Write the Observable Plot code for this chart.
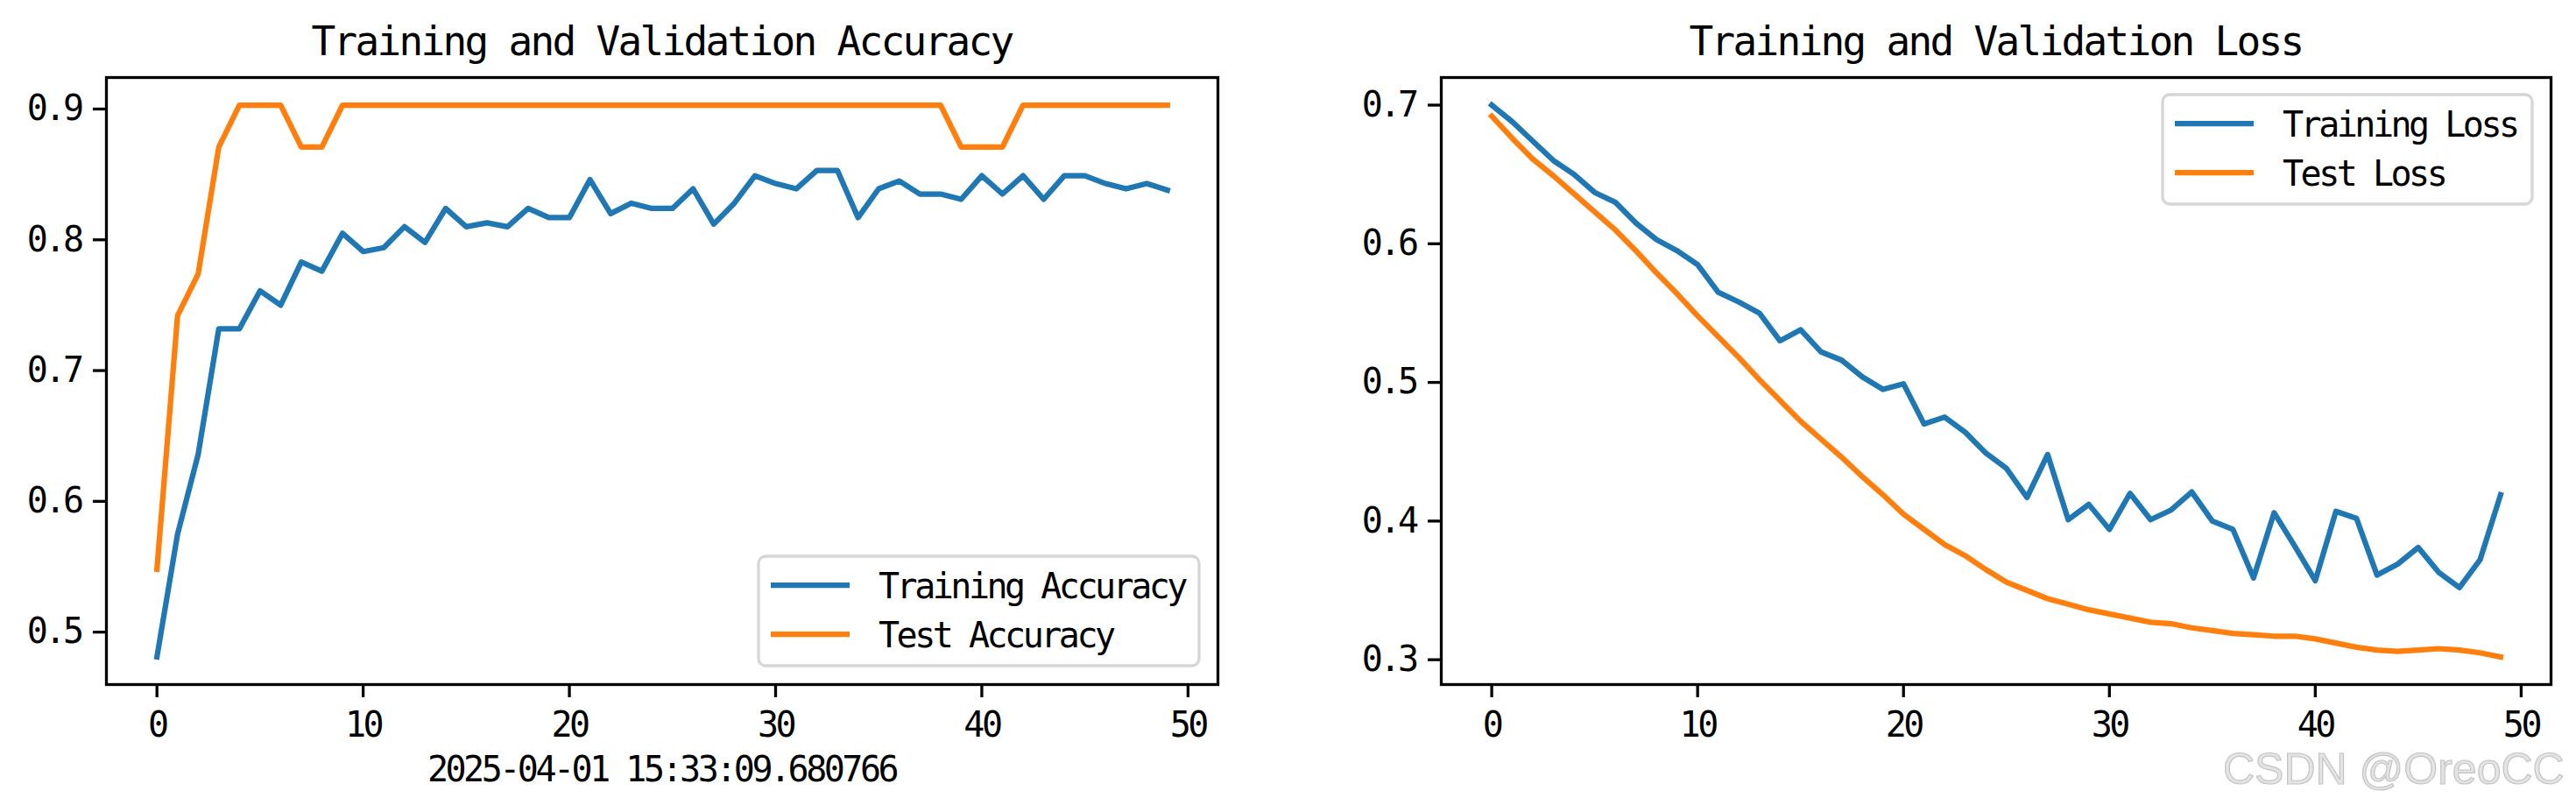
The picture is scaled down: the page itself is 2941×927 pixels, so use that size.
<!DOCTYPE html>
<html>
<head>
<meta charset="utf-8">
<script src="https://cdn.jsdelivr.net/npm/d3@7"></script>
<script src="https://cdn.jsdelivr.net/npm/@observablehq/plot@0.6"></script>
<style>
  html, body { margin: 0; padding: 0; background: #fff; }
  #root { position: relative; width: 2941px; height: 927px; overflow: hidden; background: #fff; }
  #root > svg, #root > .panel { position: absolute; top: 0; }
</style>
</head>
<body>
<div id="root"></div>
<script>
// ---- Data ----
const epochs = [0,1,2,3,4,5,6,7,8,9,10,11,12,13,14,15,16,17,18,19,20,21,22,23,24,25,26,27,28,29,30,31,32,33,34,35,36,37,38,39,40,41,42,43,44,45,46,47,48,49];

const trainAcc = [0.481,0.575,0.636,0.732,0.732,0.761,0.750,0.783,0.776,0.805,
                  0.791,0.794,0.810,0.798,0.824,0.810,0.813,0.810,0.824,0.817,
                  0.817,0.846,0.820,0.828,0.824,0.824,0.839,0.812,0.828,0.849,
                  0.843,0.839,0.853,0.853,0.817,0.839,0.845,0.835,0.835,0.831,
                  0.849,0.835,0.849,0.831,0.849,0.849,0.843,0.839,0.843,0.838];

const testAcc = [0.548,0.742,0.774,0.871,0.903,0.903,0.903,0.871,0.871,0.903,
                 0.903,0.903,0.903,0.903,0.903,0.903,0.903,0.903,0.903,0.903,
                 0.903,0.903,0.903,0.903,0.903,0.903,0.903,0.903,0.903,0.903,
                 0.903,0.903,0.903,0.903,0.903,0.903,0.903,0.903,0.903,0.871,
                 0.871,0.871,0.903,0.903,0.903,0.903,0.903,0.903,0.903,0.903];

const trainLoss = [0.700,0.688,0.674,0.660,0.650,0.637,0.630,0.615,0.603,0.595,
                   0.585,0.565,0.558,0.550,0.530,0.538,0.522,0.516,0.504,0.495,
                   0.499,0.470,0.475,0.464,0.449,0.438,0.417,0.448,0.401,0.412,
                   0.394,0.420,0.401,0.408,0.421,0.400,0.394,0.359,0.406,0.382,
                   0.357,0.407,0.402,0.361,0.369,0.381,0.363,0.352,0.372,0.419];

const testLoss = [0.692,0.676,0.661,0.649,0.636,0.623,0.610,0.595,0.579,0.564,
                  0.548,0.533,0.518,0.502,0.487,0.472,0.459,0.446,0.432,0.419,
                  0.405,0.394,0.383,0.375,0.365,0.356,0.350,0.344,0.340,0.336,
                  0.333,0.330,0.327,0.326,0.323,0.321,0.319,0.318,0.317,0.317,
                  0.315,0.312,0.309,0.307,0.306,0.307,0.308,0.307,0.305,0.302];

const xTicks = [0,10,20,30,40,50];
const accTicks = [0.5,0.6,0.7,0.8,0.9];
const lossTicks = [0.3,0.4,0.5,0.6,0.7];

const titles = ["Training and Validation Accuracy", "Training and Validation Loss"];
const accLegend = ["Training Accuracy", "Test Accuracy"];
const lossLegend = ["Training Loss", "Test Loss"];
const xLabelLeft = "2025-04-01 15:33:09.680766";
const watermark = "CSDN @OreoCC";

const BLUE = "#1f77b4", ORANGE = "#ff7f0e";
const FONT = "'DejaVu Sans Mono', monospace";

// matplotlib-style 5% margins
function padded(vals) {
  const [lo, hi] = d3.extent(vals);
  const p = (hi - lo) * 0.05;
  return [lo - p, hi + p];
}

const rows = epochs.map((e, i) => ({epoch: e, trainAcc: trainAcc[i], testAcc: testAcc[i], trainLoss: trainLoss[i], testLoss: testLoss[i]}));

function panel({width, ml, mr, yDomain, yTicks, a, b}) {
  return Plot.plot({
    width, height: 927,
    marginLeft: ml, marginRight: mr, marginTop: 88, marginBottom: 146,
    x: {domain: padded(epochs)},
    y: {domain: yDomain},
    style: {fontFamily: FONT, fontSize: "40px", letterSpacing: "-3.5px", color: "black", background: "transparent", overflow: "visible"},
    marks: [
      Plot.line(rows, {x: "epoch", y: a, stroke: BLUE, strokeWidth: 6.25, strokeLinejoin: "round", strokeLinecap: "square"}),
      Plot.line(rows, {x: "epoch", y: b, stroke: ORANGE, strokeWidth: 6.25, strokeLinejoin: "round", strokeLinecap: "square"}),
      Plot.frame({stroke: "black", strokeWidth: 3.3}),
      Plot.axisX({ticks: xTicks, tickSize: 15, tickPadding: 16, strokeWidth: 3.3, label: null, tickFormat: d => String(d), fill: "black"}),
      Plot.axisY({ticks: yTicks, tickSize: 15, tickPadding: 14, strokeWidth: 3.3, label: null, tickFormat: d => d.toFixed(1), fill: "black"})
    ]
  });
}

const root = document.getElementById("root");

const left = panel({width: 1470, ml: 121, mr: 80, yDomain: padded(trainAcc.concat(testAcc)), yTicks: accTicks, a: "trainAcc", b: "testAcc"});
left.style.left = "0px";
root.appendChild(left);

const right = panel({width: 1471, ml: 175, mr: 29, yDomain: padded(trainLoss.concat(testLoss)), yTicks: lossTicks, a: "trainLoss", b: "testLoss"});
right.style.left = "1470px";
root.appendChild(right);

// ---- Overlay: titles, x label, legends, watermark ----
const svg = d3.select(root).append("svg")
  .attr("width", 2941).attr("height", 927)
  .style("left", "0px").style("pointer-events", "none");

const centers = [755.5, 2278.5];
titles.forEach((t, i) => {
  svg.append("text").attr("x", centers[i]).attr("y", 63)
    .attr("text-anchor", "middle")
    .style("font-family", FONT).style("font-size", "46px").style("letter-spacing", "-2.7px")
    .attr("fill", "black").text(t);
});

svg.append("text").attr("x", centers[0]).attr("y", 892)
  .attr("text-anchor", "middle")
  .style("font-family", FONT).style("font-size", "40px").style("letter-spacing", "-3.5px")
  .attr("fill", "black").text(xLabelLeft);

function legend(x, y, w, h, labels) {
  const g = svg.append("g").attr("transform", `translate(${x},${y})`);
  g.append("rect").attr("x", 0).attr("y", 0).attr("width", w).attr("height", h)
    .attr("rx", 8).attr("fill", "rgba(255,255,255,0.8)").attr("stroke", "#d6d6d6").attr("stroke-width", 3.3);
  const colors = [BLUE, ORANGE];
  labels.forEach((lab, i) => {
    const cy = 33 + i * 56;
    g.append("line").attr("x1", 14).attr("x2", 104).attr("y1", cy).attr("y2", cy)
      .attr("stroke", colors[i]).attr("stroke-width", 6.25);
    g.append("text").attr("x", 137).attr("y", cy + 15)
      .style("font-family", FONT).style("font-size", "40px").style("letter-spacing", "-3.5px")
      .attr("fill", "black").text(lab);
  });
}
legend(866, 635, 503, 125, accLegend);
legend(2469, 108, 422, 125, lossLegend);

svg.append("text").attr("x", 2538).attr("y", 895)
  .style("font-family", "'Liberation Sans', Arial, sans-serif").style("font-size", "50px")
  .attr("fill", "#e4e4e4").attr("stroke", "#c4c4c4").attr("stroke-width", 1.2)
  .text(watermark);
</script>
</body>
</html>
